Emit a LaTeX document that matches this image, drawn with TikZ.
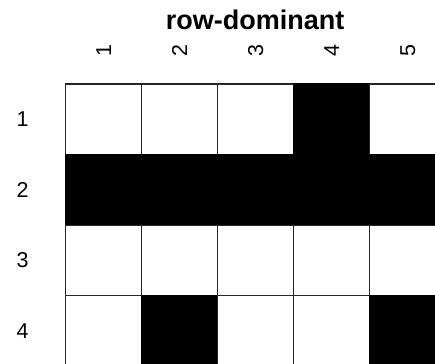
\documentclass[tikz,border=0pt]{standalone}
\usepackage{fontspec}
\setmainfont{Liberation Sans}
\usepackage{tikz}

\begin{document}
\begin{tikzpicture}[
  x=1pt,y=-1pt,
  every node/.style={inner sep=0pt,font=\fontsize{21.5}{21.5}\selectfont},
  heading/.style={font=\fontsize{27}{27}\selectfont\bfseries,anchor=base},
  collab/.style={rotate=90,anchor=center},
  rowlab/.style={anchor=center},
  cell/.style={draw=black!85,line width=1.2pt,fill=white},
  oncell/.style={draw=black,line width=1.2pt,fill=black}
]
\useasboundingbox (0,0) rectangle (435,363);

\node[heading] (title) at (255,29.5) {row-dominant};

% column and row labels
\foreach \c in {1,...,5}
  \node[collab] (col\c) at ({65.7+76*(\c-0.5)},51) {\c};
\foreach \r in {1,...,4}
  \node[rowlab] (row\r) at (22.5,{84+70.6*(\r-0.5)}) {\r};

% cells: value 1 = black
\begin{scope}
\clip (0,0) rectangle (435,363);
\foreach \r/\vals in {1/{0,0,0,1,0},2/{1,1,1,1,1},3/{0,0,0,0,0},4/{0,1,0,0,1}}
  \foreach \v [count=\c] in \vals {
    \ifnum\v=1
      \path[oncell] ({65.7+76*(\c-1)},{84+70.6*(\r-1)}) rectangle ++(76,70.6);
    \else
      \path[cell] ({65.7+76*(\c-1)},{84+70.6*(\r-1)}) rectangle ++(76,70.6);
    \fi
  }
\end{scope}
\end{tikzpicture}
\end{document}
